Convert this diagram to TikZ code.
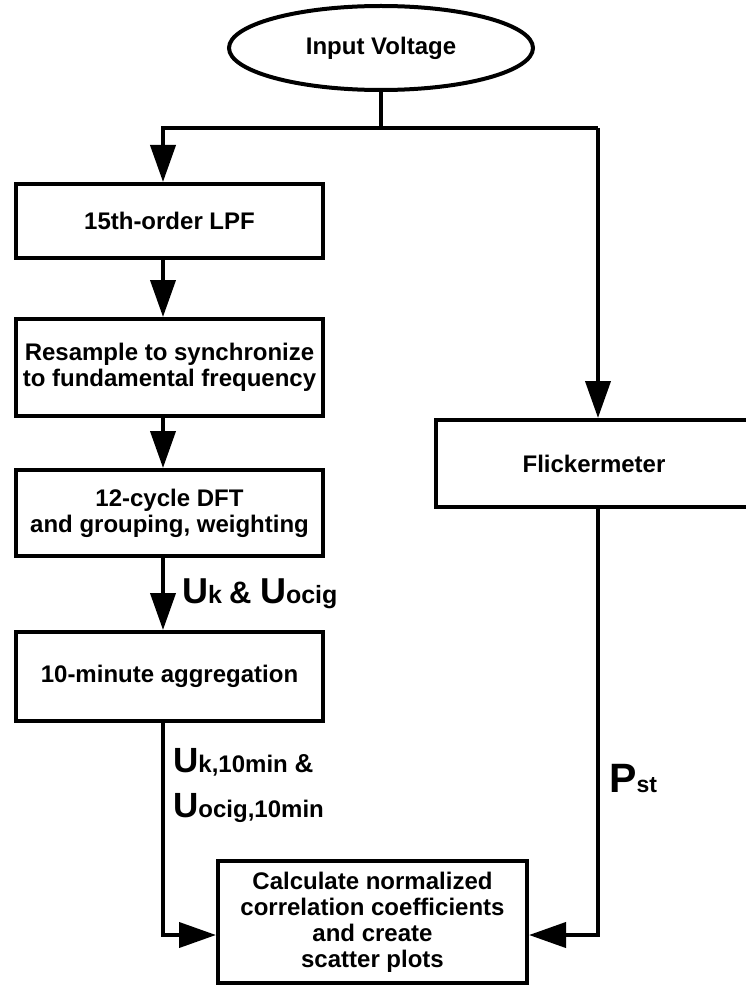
\documentclass[tikz,border=0pt]{standalone}
\usepackage{fontspec}
\setmainfont{Liberation Sans}
\usetikzlibrary{arrows.meta,shapes.geometric}
\newcommand\boxfont{\fontsize{24}{26}\selectfont\bfseries}
\newcommand\lblsz[1]{\fontsize{#1}{#1}\selectfont}
\begin{document}
\begin{tikzpicture}[x=1pt,y=-1pt,
  box/.style={draw, line width=4pt, rectangle, minimum width=307pt, align=center, inner sep=0pt, font=\boxfont},
  conn/.style={line width=4pt},
  arr/.style={conn, -{Triangle[length=37pt,width=25pt]}},
  lbl/.style={anchor=base west, inner sep=0pt, font=\bfseries}
]
\useasboundingbox (0,0) rectangle (746,987);

\node[ellipse, draw, line width=4pt, minimum width=304pt, minimum height=84pt, inner sep=0pt, font=\boxfont] (inp) at (381,48) {Input Voltage};
\node[box, minimum height=74pt] (lpf) at (169.5,221) {15th-order LPF};
\node[box, minimum height=97pt] (res) at (169.5,367.5) {Resample to synchronize\\to fundamental frequency};
\node[box, minimum height=86pt] (dft) at (169.5,513) {12-cycle DFT\\and grouping, weighting};
\node[box, minimum height=89pt] (agg) at (169.5,676.5) {10-minute aggregation};
\node[box, minimum width=309pt, minimum height=122pt] (calc) at (372.5,922) {Calculate normalized\\correlation coefficients\\and create\\scatter plots};
\node[box, minimum width=316pt, minimum height=87pt] (flk) at (594,463.5) {Flickermeter};

\coordinate (jM) at (381,128);
\coordinate (jL) at (163,128);
\coordinate (jR) at (598,128);
\coordinate (cL) at (163,935);
\coordinate (cR) at (598,935);

\draw[conn] (inp.south) -- (jM);
\draw[arr] (jR) -- (jL) -- (jL |- lpf.north);
\draw[arr] (jR) -- (jR |- flk.north);
\draw[arr] (lpf.south -| jL) -- (res.north -| jL);
\draw[arr] (res.south -| jL) -- (dft.north -| jL);
\draw[arr] (dft.south -| jL) -- (agg.north -| jL);
\draw[arr] (agg.south -| jL) -- (cL) -- (calc.west |- cL);
\draw[arr] (flk.south -| jR) -- (cR) -- (calc.east |- cR);

\node[lbl] (lab1) at (182,603) {\lblsz{36}U\lblsz{25}k \lblsz{31}\& \lblsz{36}U\lblsz{25}ocig};
\node[lbl] (lab2) at (173,772) {\lblsz{35}U\lblsz{24}k,10min \lblsz{26}\&};
\node[lbl] (lab3) at (173,817) {\lblsz{35}U\lblsz{24}ocig,10min};
\node[lbl] (pst) at (609,792) {\lblsz{41}P\lblsz{23}st};
\end{tikzpicture}
\end{document}
